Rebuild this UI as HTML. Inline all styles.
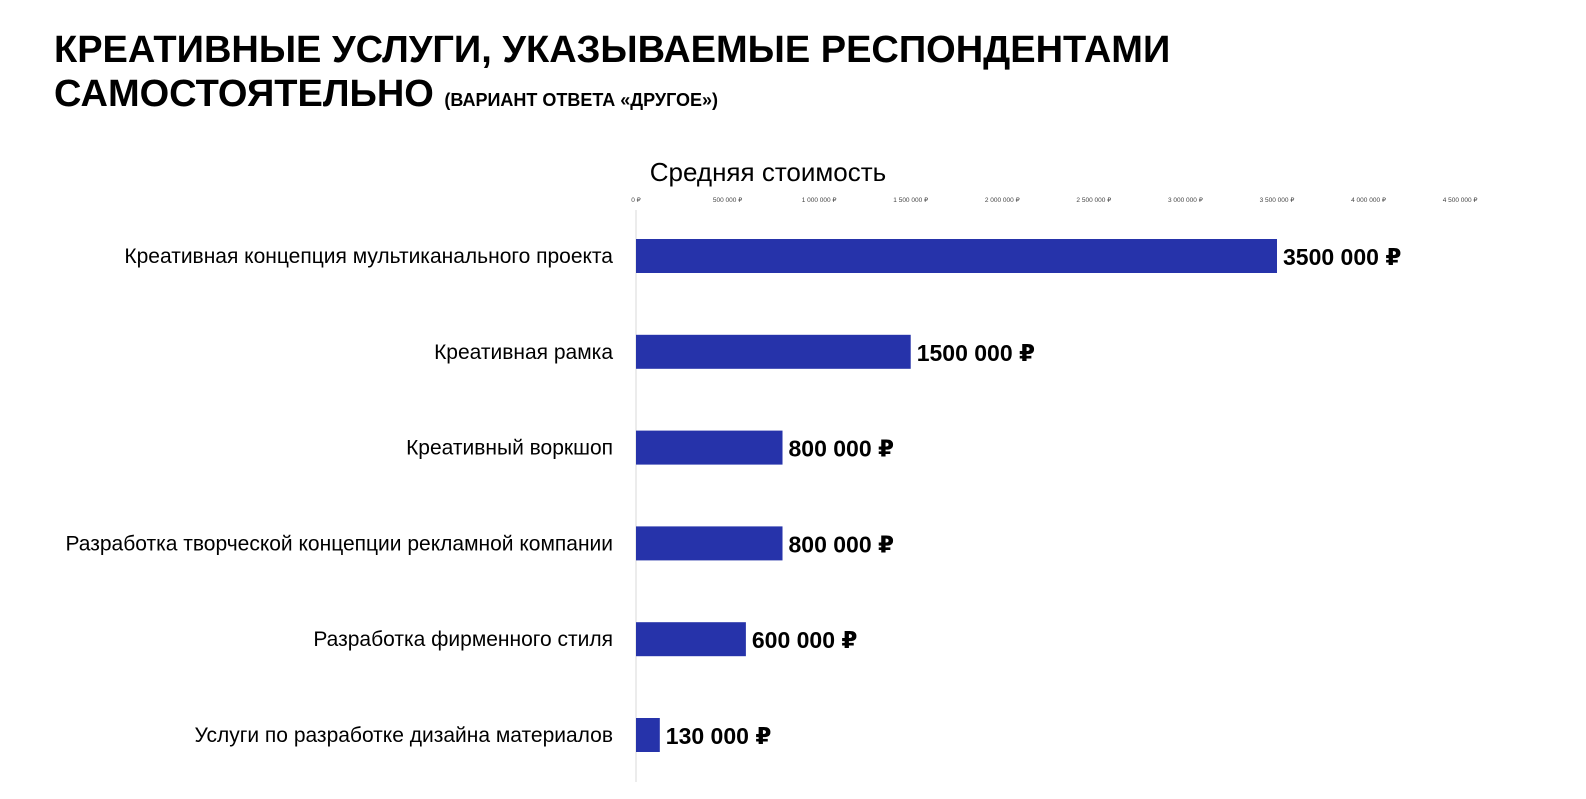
<!DOCTYPE html>
<html style="overflow:hidden"><head><meta charset="utf-8"><style>
html,body{margin:0;padding:0}
body{width:1586px;height:799px;background:#fff;font-family:"Liberation Sans","DejaVu Sans",sans-serif;overflow:hidden;position:relative}
h1{position:absolute;left:54px;top:28px;margin:0;font-size:38px;line-height:44px;font-weight:bold;color:#000}
h1 small{font-size:18px}
</style></head><body>
<h1>КРЕАТИВНЫЕ УСЛУГИ, УКАЗЫВАЕМЫЕ РЕСПОНДЕНТАМИ<br>САМОСТОЯТЕЛЬНО <small>(ВАРИАНТ ОТВЕТА «ДРУГОЕ»)</small></h1>
<svg id="chart" width="1586" height="799" style="position:absolute;left:0;top:0;display:block"></svg>
<script>
const categories=["Креативная концепция мультиканального проекта","Креативная рамка","Креативный воркшоп","Разработка творческой концепции рекламной компании","Разработка фирменного стиля","Услуги по разработке дизайна материалов"];
const values=[3500000,1500000,800000,800000,600000,130000];
const valueLabels=["3500 000 ₽","1500 000 ₽","800 000 ₽","800 000 ₽","600 000 ₽","130 000 ₽"];
const ticks=[0,500000,1000000,1500000,2000000,2500000,3000000,3500000,4000000,4500000];
const tickLabels=["0 ₽","500 000 ₽","1 000 000 ₽","1 500 000 ₽","2 000 000 ₽","2 500 000 ₽","3 000 000 ₽","3 500 000 ₽","4 000 000 ₽","4 500 000 ₽"];
const NS="http://www.w3.org/2000/svg";
const svg=document.getElementById('chart');
const x=v=>636+v*(641/3500000);
const y=i=>256+i*95.8;
function mk(t,a,txt){const e=document.createElementNS(NS,t);for(const k in a)e.setAttribute(k,a[k]);if(txt!==undefined)e.textContent=txt;svg.appendChild(e);return e;}
let t=mk('text',{x:768,y:181,'font-size':26,'text-anchor':'middle',fill:'#000'},'Средняя стоимость');


ticks.forEach((v,i)=>{const e=mk('text',{x:x(v),y:202,'font-size':6.5,'text-anchor':'middle',fill:'#444'},tickLabels[i]);

});
let ax=mk('line',{x1:636,y1:210,x2:636,y2:782,stroke:'#d9d9d9','stroke-width':1});


categories.forEach((c,i)=>{
const l=mk('text',{x:613,y:y(i)+7,'font-size':21,'text-anchor':'end',fill:'#000'},c);


const b=mk('rect',{x:636,y:y(i)-17,width:x(values[i])-636,height:34,fill:'#2633AA'});


const v=mk('text',{x:x(values[i])+6,y:y(i)+9,'font-size':23,'font-weight':'bold',fill:'#000'},valueLabels[i]);


});
</script>
</body></html>
